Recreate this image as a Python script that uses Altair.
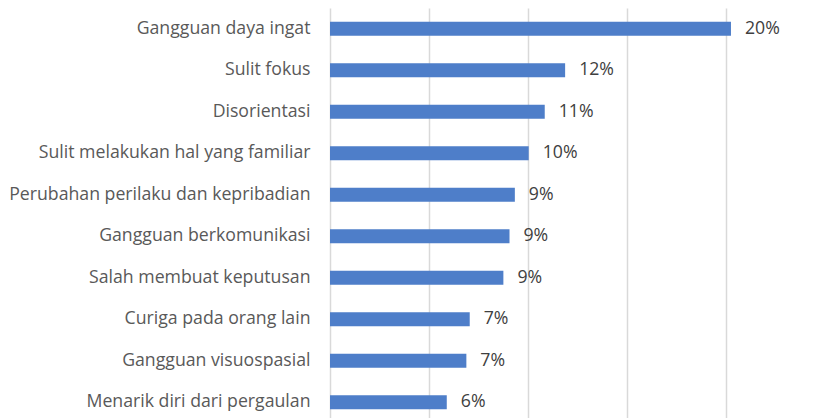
import altair as alt
import pandas as pd

categories = [
    "Gangguan daya ingat",
    "Sulit fokus",
    "Disorientasi",
    "Sulit melakukan hal yang familiar",
    "Perubahan perilaku dan kepribadian",
    "Gangguan berkomunikasi",
    "Salah membuat keputusan",
    "Curiga pada orang lain",
    "Gangguan visuospasial",
    "Menarik diri dari pergaulan",
]
values = [20.26, 11.88, 10.85, 10.04, 9.34, 9.07, 8.76, 7.06, 6.89, 5.90]
value_labels = ["20%", "12%", "11%", "10%", "9%", "9%", "9%", "7%", "7%", "6%"]
grid_values = [0, 5, 10, 15, 20]

df = pd.DataFrame({"cat": categories, "val": values, "lab": value_labels})

FONT = "Open Sans"
FS = 17.7

base = alt.Chart(df).encode(
    y=alt.Y(
        "cat:N",
        sort=categories,
        scale=alt.Scale(paddingInner=0.66, paddingOuter=0.33),
        axis=alt.Axis(
            title=None, ticks=False, domain=False, grid=False,
            labelFont=FONT, labelFontSize=FS, labelColor="#595959",
            labelPadding=20, labelLimit=500,
        ),
    ),
    x=alt.X(
        "val:Q",
        scale=alt.Scale(domain=[0, 24], nice=False),
        axis=alt.Axis(
            title=None, values=grid_values, labels=False, ticks=False,
            domain=False, grid=True, gridColor="#D9D9D9", gridWidth=1.5,
        ),
    ),
)

bars = base.mark_bar(color="#4E7EC9")
text = base.mark_text(
    align="left", baseline="middle", dx=14, font=FONT, fontSize=FS, color="#404040"
).encode(text="lab:N")

chart = (
    (bars + text)
    .properties(
        width=475, height=415,
        padding={"left": 0, "top": 0, "right": 0, "bottom": 0},
    )
    .configure_view(stroke=None)
)

chart.save("out.html", embed_options={"renderer": "svg", "actions": False})
